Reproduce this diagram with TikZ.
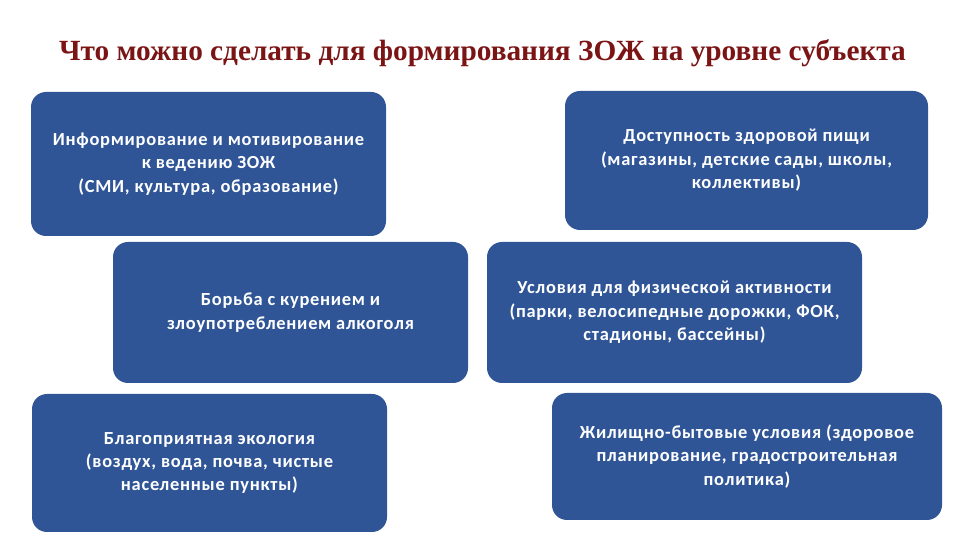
\documentclass[tikz,border=0pt]{standalone}
\usepackage{fontspec}
\setmainfont{Carlito}[LetterSpace=4]
\newfontfamily\titlefont{Liberation Serif}
\definecolor{boxblue}{HTML}{2F5597}
\definecolor{titlered}{HTML}{7B1414}
\tikzset{
  zbox/.style={draw=none,fill=boxblue,text=white,rounded corners=15bp,align=center,inner sep=0pt,
    font=\bfseries\fontsize{18.5}{23.5}\selectfont},
}
\begin{document}
\begin{tikzpicture}[line join=bevel,]
\useasboundingbox (0bp,0bp) rectangle (960bp,540bp);
%%
\node (title) at (482.5bp,487bp) [text=titlered,font=\titlefont\bfseries\fontsize{29.4}{32}\selectfont] {Что можно сделать для формирования ЗОЖ на уровне субъекта};
%
\node (info) at (208.5bp,376bp) [zbox,minimum width=355bp,minimum height=144bp] {Информирование и мотивирование\\к ведению ЗОЖ\\(СМИ, культура, образование)};
  \node (food) at (746.5bp,379.5bp) [zbox,minimum width=363bp,minimum height=139bp] {Доступность здоровой пищи\\(магазины, детские сады, школы,\\коллективы)};
\node (smoke) at (290.5bp,227.5bp) [zbox,minimum width=355bp,minimum height=141bp] {Борьба с курением и\\злоупотреблением алкоголя};
  \node (sport) at (674.5bp,227.5bp) [zbox,minimum width=375bp,minimum height=141bp] {Условия для физической активности\\(парки, велосипедные дорожки, ФОК,\\стадионы, бассейны)};
\node (eco) at (209.5bp,77bp) [zbox,minimum width=355bp,minimum height=138bp] {Благоприятная экология\\(воздух, вода, почва, чистые\\населенные пункты)};
  \node (house) at (747bp,83.5bp) [zbox,minimum width=390bp,minimum height=127bp] {Жилищно-бытовые условия (здоровое\\планирование, градостроительная\\политика)};
%
\end{tikzpicture}
\end{document}
